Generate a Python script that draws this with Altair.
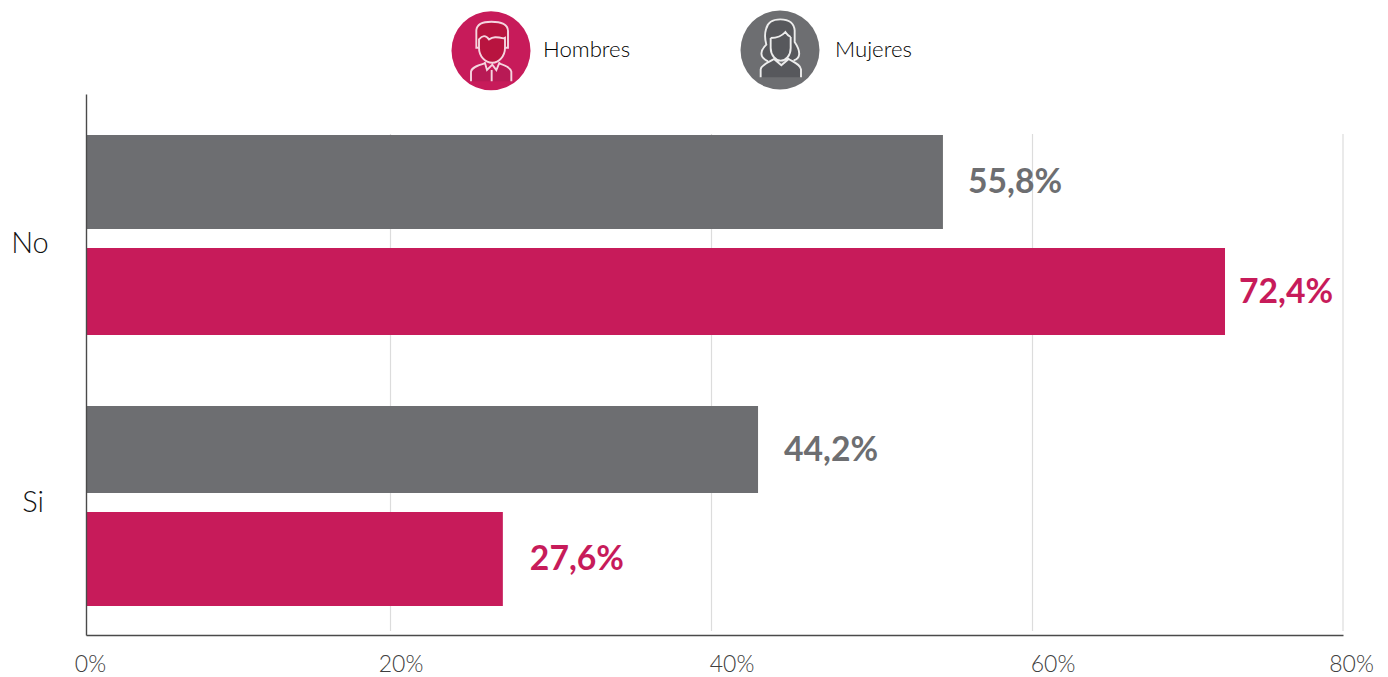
import re
import altair as alt
import pandas as pd

# Data
rows = [0, 1, 2, 3]
categories = ["No", "No", "Si", "Si"]
series = ["Mujeres", "Hombres", "Mujeres", "Hombres"]
bar_values = [54.42, 72.4, 42.9, 27.0]
value_labels = ["55,8%", "72,4%", "44,2%", "27,6%"]
x_ticks = [0, 20, 40, 60, 80]
grid_ticks = [20, 40, 60, 80]
category_rows = [0.565, 2.48]

PINK = "#c71b5a"
GRAY = "#6d6e71"
FONT = "Lato"

df = pd.DataFrame({"row": rows, "cat": categories, "series": series,
                   "value": bar_values, "label": value_labels})

x_scale = alt.Scale(domain=x_ticks, range=[0, 304.5, 625.5, 946.5, 1257], nice=False, zero=False)
y_scale = alt.Scale(domain=[-2, -1, 0, 1, 2, 3, 4], range=[0, 40, 88, 197.5, 355.5, 465, 541],
                    nice=False, zero=False)
color_scale = alt.Scale(domain=["Mujeres", "Hombres"], range=[GRAY, PINK])

x_axis = alt.Axis(
    values=x_ticks, labelExpr="datum.value + '%'", grid=False, ticks=False, title=None,
    domainColor="#4a4a4a", domainWidth=1.4, labelFont=FONT, labelFontSize=23,
    labelColor="#404040", labelFontWeight=300, labelPadding=18, zindex=1,
    labelFlush=False, labelOverlap=False,
    labelOffset={"condition": [
        {"test": "datum.value == 0", "value": 4},
        {"test": "datum.value == 20", "value": 10},
        {"test": "datum.value == 80", "value": 8},
    ], "value": 20},
)
y_axis = alt.Axis(
    values=category_rows, labelExpr="datum.value < 1 ? 'No' : 'Si'", grid=False, ticks=False, title=None,
    domainColor="#4a4a4a", domainWidth=1.4, labelFont=FONT, labelFontSize=29,
    labelColor="#111111", labelFontWeight=300, labelAlign="center", labelOverlap=False,
    labelPadding={"condition": {"test": "datum.value < 1", "value": 56.5}, "value": 53.5},
    zindex=1,
)

grid = alt.Chart(pd.DataFrame({"t": grid_ticks})).mark_rule(color="#dcdcdc", strokeWidth=1.2).encode(
    x=alt.X("t:Q", scale=x_scale, axis=x_axis),
    y=alt.datum(-1, scale=y_scale, axis=y_axis),
    y2=alt.datum(4),
)

bars = alt.Chart(df).mark_bar(orient="horizontal").encode(
    x=alt.X("value:Q", scale=x_scale, axis=x_axis),
    y=alt.Y("row:Q", scale=y_scale, axis=y_axis),
    size=alt.Size("row:Q", scale=alt.Scale(domain=rows, range=[94, 87, 87, 94]), legend=None),
    color=alt.Color("series:N", scale=color_scale, legend=None),
)

label_gaps = {0: 25, 1: 14, 2: 26, 3: 27}
value_texts = [
    alt.Chart(df[df.row == r]).mark_text(
        align="left", baseline="middle", font=FONT, fontSize=33.7, fontWeight=700, dx=gap, dy=1,
    ).encode(
        x=alt.X("value:Q", scale=x_scale, axis=x_axis),
        y=alt.Y("row:Q", scale=y_scale, axis=y_axis),
        text="label:N",
        color=alt.Color("series:N", scale=color_scale, legend=None),
    )
    for r, gap in label_gaps.items()
]


# Legend icons (path coordinates relative to a 268-unit icon box)
def icon(path):
    def conv(m):
        return f"{(float(m.group(1)) - 134) / 120:.4f},{(float(m.group(2)) - 134) / 120:.4f}"
    return re.sub(r"(-?\d+\.?\d*),(-?\d+\.?\d*)", conv, path)


M_HEAD = icon("M90,125 L90,72 C92,55 108,47 135,47 C165,47 185,55 185,75 L185,125 L176,125 "
              "C176,150 158,170 138,170 C116,170 98,150 98,125 Z")
M_BODY = icon("M74,226 L74,197 C76,184 95,178 115,172 L135,196 L158,172 C178,178 193,184 195,197 L195,226 Z")
M_LINES = icon(
    "M98,125 L90,125 L90,72 C92,55 108,47 135,47 C165,47 185,55 185,75 L185,125 L176,125 "
    "M98,125 L98,100 C108,88 118,86 128,100 C140,92 150,92 172,97 L176,95 L176,125 "
    "C176,150 158,170 138,170 C116,170 98,150 98,125 "
    "M74,226 L74,197 C76,184 95,178 115,172 M195,226 L195,197 C193,184 178,178 158,172 "
    "M115,168 L122,192 L138,176 L150,192 L160,168 M136,192 L136,226"
)
F_HEAD = icon("M95,120 L90,72 C92,52 110,42 135,42 C160,42 178,52 178,75 L178,110 "
              "C198,140 195,160 175,165 L100,168 C70,155 75,135 95,120 Z")
F_BODY = icon("M76,216 L76,192 C78,178 98,172 116,161 L138,180 L160,161 C178,172 195,178 197,192 L197,216 Z")
F_LINES = icon(
    "M98,168 C70,155 75,135 93,118 C88,100 88,85 92,72 C96,52 110,42 135,42 C160,42 176,52 178,75 "
    "L178,110 C198,140 195,160 175,165 "
    "M106,98 L106,128 C106,150 122,166 136,166 C152,166 166,150 166,128 L166,95 "
    "M106,98 C122,98 140,92 150,80 C155,88 160,92 166,95 "
    "M76,216 L76,192 C78,178 98,172 116,161 L138,180 L160,161 C178,172 195,178 197,192 L197,216"
)


def point(px, py, shape, size, fill=None, stroke=None, sw=0):
    kw = dict(shape=shape, size=size, opacity=1)
    if fill:
        kw.update(filled=True, fill=fill, strokeWidth=0)
    else:
        kw.update(filled=False, stroke=stroke, strokeWidth=sw, fillOpacity=0)
    return alt.Chart(pd.DataFrame({"a": [0]})).mark_point(**kw).encode(
        x=alt.value(px), y=alt.value(py))


def legend_text(px, py, txt):
    return alt.Chart(pd.DataFrame({"t": [txt]})).mark_text(
        align="left", baseline="middle", font=FONT, fontSize=22.2, fontWeight=300, color="#000000"
    ).encode(x=alt.value(px), y=alt.value(py), text="t:N")


# legend anchors are relative to the plot's top-left corner (86, 94)
mx, my = 491 - 86, 50.7 - 94
fx, fy = 780 - 86, 50 - 94
legend = [
    point(mx, my, "circle", 6241, fill=PINK),
    point(mx, my, M_HEAD, 6400, fill="#b8143f"),
    point(mx, my, M_BODY, 6400, fill="#b81a55"),
    point(mx, my, M_LINES, 6400, stroke="#f5d5df", sw=1.9),
    legend_text(543 - 86, 50 - 94, "Hombres"),
    point(fx, fy, "circle", 6241, fill=GRAY),
    point(fx, fy, F_HEAD, 6400, fill="#57585c"),
    point(fx, fy, F_BODY, 6400, fill="#57585c"),
    point(fx, fy, F_LINES, 6400, stroke="#ececec", sw=1.9),
    legend_text(835 - 86, 50 - 94, "Mujeres"),
]

chart = alt.layer(grid, bars, *value_texts, *legend).properties(
    width=1257, height=541,
    padding={"left": 78, "top": 86, "right": 37, "bottom": 42},
    autosize=alt.AutoSizeParams(type="none"),
    background="white",
).configure_view(stroke=None)

chart.save("out.html", embed_options={"renderer": "svg", "actions": False})
